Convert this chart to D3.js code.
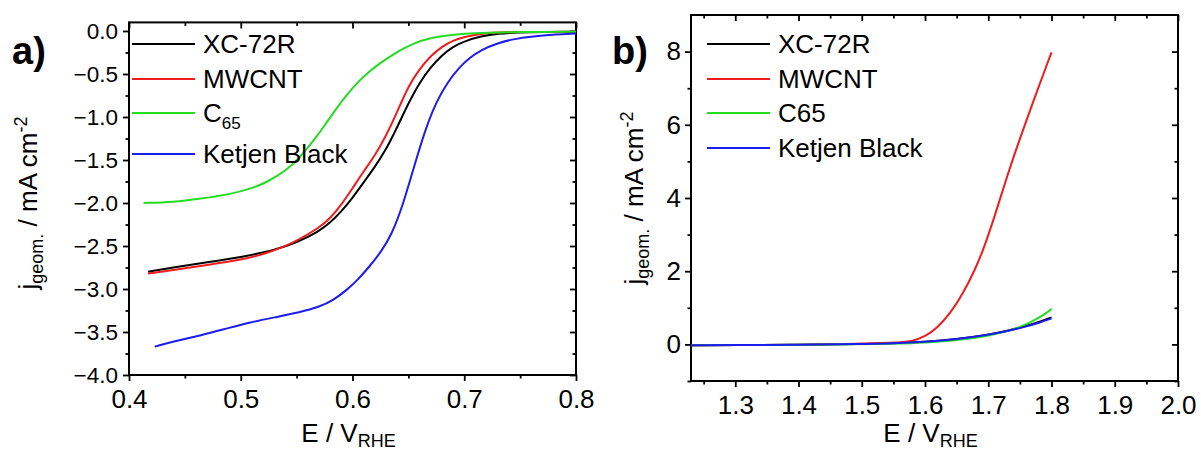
<!DOCTYPE html>
<html>
<head>
<meta charset="utf-8">
<script src="https://cdn.jsdelivr.net/npm/d3@7"></script>
<style>
  body { margin: 0; background: #fff; }
  svg text { font-family: "Liberation Sans", Arial, sans-serif; fill: #000; }
</style>
</head>
<body>
<svg id="chart" width="1201" height="454"></svg>
<script>
// panel a (ORR): [E / V_RHE, j / mA cm-2]
const orrXC72R = [[0.417,-2.80],[0.44,-2.75],[0.47,-2.69],[0.50,-2.63],[0.53,-2.55],[0.55,-2.46],[0.57,-2.33],[0.58,-2.23],[0.59,-2.10],[0.60,-1.94],[0.61,-1.76],[0.62,-1.58],[0.63,-1.38],[0.64,-1.12],[0.65,-0.84],[0.66,-0.60],[0.67,-0.42],[0.68,-0.28],[0.69,-0.18],[0.70,-0.12],[0.715,-0.06],[0.73,-0.03],[0.75,-0.015],[0.77,-0.01],[0.80,-0.01]];
const orrMWCNT = [[0.417,-2.82],[0.44,-2.78],[0.47,-2.72],[0.50,-2.66],[0.52,-2.60],[0.54,-2.50],[0.55,-2.44],[0.57,-2.29],[0.58,-2.18],[0.59,-2.02],[0.60,-1.83],[0.61,-1.63],[0.62,-1.45],[0.63,-1.22],[0.64,-0.94],[0.65,-0.64],[0.66,-0.44],[0.67,-0.29],[0.68,-0.18],[0.69,-0.11],[0.70,-0.07],[0.715,-0.03],[0.73,-0.015],[0.75,-0.01],[0.80,-0.01]];
const orrC65 = [[0.413,-2.00],[0.44,-1.99],[0.464,-1.95],[0.49,-1.90],[0.51,-1.83],[0.523,-1.76],[0.54,-1.63],[0.553,-1.47],[0.565,-1.28],[0.575,-1.10],[0.585,-0.91],[0.595,-0.74],[0.605,-0.59],[0.615,-0.47],[0.625,-0.37],[0.64,-0.24],[0.655,-0.14],[0.67,-0.08],[0.685,-0.05],[0.70,-0.03],[0.72,-0.02],[0.75,-0.01],[0.80,-0.01]];
const orrKetjen = [[0.423,-3.67],[0.44,-3.61],[0.464,-3.54],[0.49,-3.45],[0.508,-3.39],[0.53,-3.33],[0.553,-3.27],[0.57,-3.21],[0.583,-3.13],[0.595,-3.01],[0.605,-2.89],[0.615,-2.74],[0.625,-2.58],[0.635,-2.37],[0.645,-2.03],[0.655,-1.58],[0.665,-1.15],[0.675,-0.82],[0.685,-0.60],[0.695,-0.43],[0.705,-0.31],[0.715,-0.22],[0.73,-0.14],[0.745,-0.09],[0.77,-0.05],[0.80,-0.03]];

// panel b (OER)
const oerXC72R = [[1.23,-0.02],[1.30,-0.02],[1.40,-0.01],[1.50,0.01],[1.55,0.03],[1.60,0.07],[1.65,0.14],[1.70,0.26],[1.73,0.37],[1.76,0.50],[1.78,0.61],[1.80,0.74]];
const oerMWCNT = [[1.23,-0.02],[1.30,-0.02],[1.40,-0.01],[1.50,0.02],[1.56,0.05],[1.58,0.09],[1.60,0.21],[1.62,0.46],[1.64,0.85],[1.66,1.38],[1.68,2.08],[1.69,2.50],[1.70,2.98],[1.71,3.50],[1.72,4.05],[1.73,4.60],[1.74,5.12],[1.75,5.62],[1.76,6.10],[1.77,6.58],[1.78,7.05],[1.79,7.52],[1.80,7.98]];
const oerC65 = [[1.23,-0.02],[1.30,-0.02],[1.40,-0.01],[1.50,0.0],[1.55,0.02],[1.60,0.05],[1.65,0.11],[1.70,0.23],[1.73,0.36],[1.75,0.47],[1.77,0.63],[1.79,0.83],[1.80,0.97]];
const oerKetjen = [[1.23,-0.02],[1.30,-0.02],[1.40,-0.01],[1.50,0.01],[1.55,0.03],[1.60,0.07],[1.65,0.14],[1.70,0.26],[1.73,0.36],[1.76,0.49],[1.78,0.59],[1.80,0.71]];

const seriesNames = ["XC-72R", "MWCNT", "C65", "Ketjen Black"];
const seriesColors = ["#000000", "#ee1c1c", "#22dd22", "#1c1cee"];

const aXTicks = [0.4, 0.5, 0.6, 0.7, 0.8];
const aXLabels = ["0.4", "0.5", "0.6", "0.7", "0.8"];
const aXMinor = [0.45, 0.55, 0.65, 0.75];
const aYTicks = [0, -0.5, -1, -1.5, -2, -2.5, -3, -3.5, -4];
const aYLabels = ["0.0", "\u22120.5", "\u22121.0", "\u22121.5", "\u22122.0", "\u22122.5", "\u22123.0", "\u22123.5", "\u22124.0"];
const aYMinor = [-0.25, -0.75, -1.25, -1.75, -2.25, -2.75, -3.25, -3.75];

const bXTicks = [1.3, 1.4, 1.5, 1.6, 1.7, 1.8, 1.9, 2.0];
const bXLabels = ["1.3", "1.4", "1.5", "1.6", "1.7", "1.8", "1.9", "2.0"];
const bXMinor = [1.25, 1.35, 1.45, 1.55, 1.65, 1.75, 1.85, 1.95];
const bYTicks = [0, 2, 4, 6, 8];
const bYLabels = ["0", "2", "4", "6", "8"];
const bYMinor = [-1, 1, 3, 5, 7];

const svg = d3.select("#chart");

function drawPanel(p) {
  const g = svg.append("g");
  const [xl, xr] = p.x.range();
  const [yb, yt] = p.y.range();

  const addAxis = (axis, tx, ty, size) => {
    const a = g.append("g")
      .attr("transform", `translate(${tx},${ty})`)
      .call(axis);
    a.select(".domain").remove();
    a.attr("font-size", size);
    a.selectAll("line").attr("stroke-width", 1.8);
    return a;
  };

  // bottom + left with labels, ticks outward
  addAxis(d3.axisBottom(p.x).tickValues(p.xTicks).tickFormat((d, i) => p.xLabels[i])
    .tickSize(6).tickPadding(9), 0, yb, p.xFont);
  addAxis(d3.axisLeft(p.y).tickValues(p.yTicks).tickFormat((d, i) => p.yLabels[i])
    .tickSize(6).tickPadding(p.yPad), xl, 0, p.yFont);
  addAxis(d3.axisBottom(p.x).tickValues(p.xMinor).tickFormat("").tickSize(3.5), 0, yb, 10);
  addAxis(d3.axisLeft(p.y).tickValues(p.yMinor).tickFormat("").tickSize(3.5), xl, 0, 10);
  // mirrored top + right, pointing inside
  addAxis(d3.axisBottom(p.x).tickValues(p.xTicks).tickFormat("").tickSize(6), 0, yt, 10);
  addAxis(d3.axisBottom(p.x).tickValues(p.xMinor).tickFormat("").tickSize(3.5), 0, yt, 10);
  addAxis(d3.axisLeft(p.y).tickValues(p.yTicks).tickFormat("").tickSize(6), xr, 0, 10);
  addAxis(d3.axisLeft(p.y).tickValues(p.yMinor).tickFormat("").tickSize(3.5), xr, 0, 10);

  g.append("rect")
    .attr("x", xl).attr("y", yt)
    .attr("width", xr - xl).attr("height", yb - yt)
    .attr("fill", "none").attr("stroke", "#000").attr("stroke-width", 2);

  const line = d3.line()
    .x(d => p.x(d[0]))
    .y(d => p.y(d[1]))
    .curve(d3.curveBasis);

  g.selectAll(".curve")
    .data(p.series)
    .join("path")
    .attr("class", "curve")
    .attr("d", d => line(d))
    .attr("fill", "none")
    .attr("stroke", (d, i) => seriesColors[i])
    .attr("stroke-width", 2);

  // legend
  p.legendY.forEach((ly, i) => {
    g.append("line")
      .attr("x1", p.legendX).attr("x2", p.legendX + 63)
      .attr("y1", ly).attr("y2", ly)
      .attr("stroke", seriesColors[i]).attr("stroke-width", 2);
    const t = g.append("text")
      .attr("x", p.legendX + 71).attr("y", ly + 9)
      .attr("font-size", 26);
    if (i === 2 && p.subC65) {
      t.text("C");
      t.append("tspan").attr("font-size", 17).attr("dy", 7).text("65");
    } else {
      t.text(seriesNames[i]);
    }
  });

  // panel letter
  g.append("text")
    .attr("x", p.letterX).attr("y", 64)
    .attr("font-size", 38).attr("font-weight", "bold")
    .text(p.letter);

  // x title
  const xt = g.append("text")
    .attr("x", (xl + xr) / 2 - 4).attr("y", 442)
    .attr("text-anchor", "middle").attr("font-size", 26)
    .text("E / V");
  xt.append("tspan").attr("font-size", 18).attr("dy", 5).text("RHE");

  // y title
  const yt2 = g.append("text")
    .attr("transform", `translate(${p.yTitleX},${p.yTitleY}) rotate(-90)`)
    .attr("text-anchor", "middle").attr("font-size", 26)
    .text("j");
  yt2.append("tspan").attr("font-size", 18).attr("dy", 6).text("geom.");
  yt2.append("tspan").attr("dy", -6).text(" / mA cm");
  yt2.append("tspan").attr("font-size", 18).attr("dy", -10).text("-2");
}

drawPanel({
  x: d3.scaleLinear().domain([0.4, 0.8]).range([129, 576]),
  y: d3.scaleLinear().domain([-4.0, 0.1]).range([375, 22.4]),
  xTicks: aXTicks, xLabels: aXLabels, xMinor: aXMinor,
  yTicks: aYTicks, yLabels: aYLabels, yMinor: aYMinor,
  xFont: 26, yFont: 22.5, yPad: 5,
  series: [orrXC72R, orrMWCNT, orrC65, orrKetjen],
  legendX: 132, legendY: [44, 79, 113, 154], subC65: true,
  letter: "a)", letterX: 12,
  yTitleX: 37, yTitleY: 203
});

drawPanel({
  x: d3.scaleLinear().domain([1.23, 2.0]).range([691, 1178]),
  y: d3.scaleLinear().domain([-1, 9]).range([381, 15]),
  xTicks: bXTicks, xLabels: bXLabels, xMinor: bXMinor,
  yTicks: bYTicks, yLabels: bYLabels, yMinor: bYMinor,
  xFont: 26, yFont: 26, yPad: 4,
  series: [oerXC72R, oerMWCNT, oerC65, oerKetjen],
  legendX: 707, legendY: [44, 79, 113, 148], subC65: false,
  letter: "b)", letterX: 612,
  yTitleX: 643, yTitleY: 198
});
</script>
</body>
</html>
